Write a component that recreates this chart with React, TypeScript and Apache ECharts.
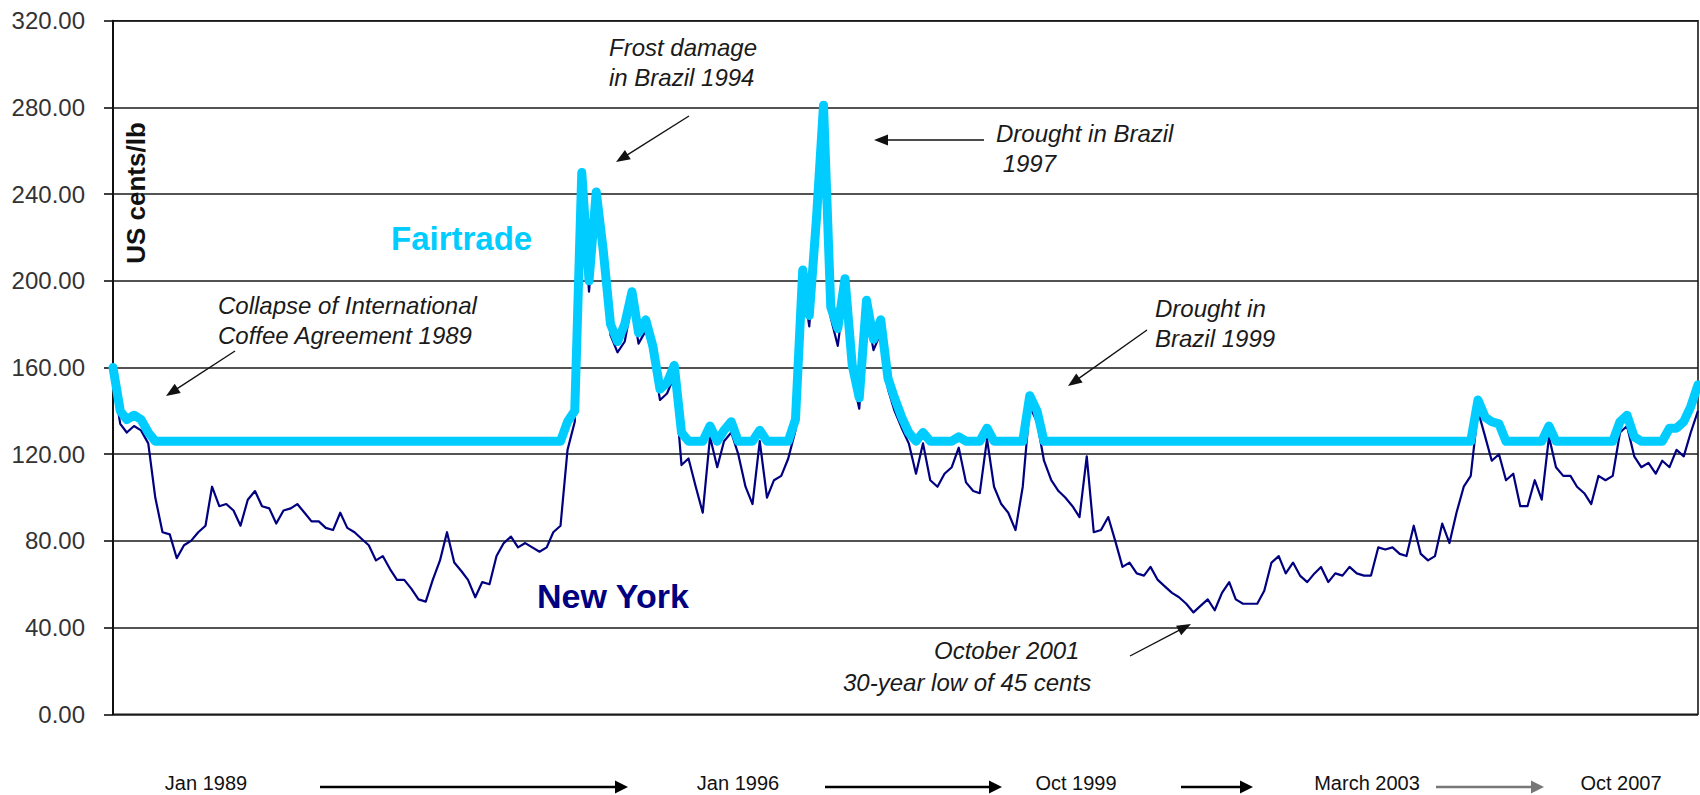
import React, { useEffect, useRef } from "react";
import * as echarts from "echarts";

// Monthly series, first point = Jan 1989, one value per month (US cents/lb)
const startYear = 1989;
const newYork = [
  155, 134, 130, 133, 131, 125, 100, 84, 83, 72, 78, 80,
  84, 87, 105, 96, 97, 94, 87, 99, 103, 96, 95, 88,
  94, 95, 97, 93, 89, 89, 86, 85, 93, 86, 84, 81,
  78, 71, 73, 67, 62, 62, 58, 53, 52, 62, 71, 84,
  70, 66, 62, 54, 61, 60, 73, 79, 82, 77, 79, 77,
  75, 77, 84, 87, 122, 135, 245, 195, 236, 209, 175, 167,
  172, 190, 171, 177, 165, 145, 148, 156, 115, 118, 105, 93,
  128, 114, 126, 130, 120, 105, 97, 126, 100, 108, 110, 118,
  131, 200, 179, 224, 276, 183, 170, 196, 156, 141, 186, 168,
  176, 150, 140, 132, 125, 111, 125, 108, 105, 111, 114, 123,
  107, 103, 102, 127, 105, 97, 93, 85, 105, 142, 135, 117,
  108, 103, 100, 96, 91, 119, 84, 85, 91, 80, 68, 70,
  65, 64, 68, 62, 59, 56, 54, 51, 47, 50, 53, 48,
  56, 61, 53, 51, 51, 51, 57, 70, 73, 65, 70, 64,
  61, 65, 68, 61, 65, 64, 68, 65, 64, 64, 77, 76,
  77, 74, 73, 87, 74, 71, 73, 88, 79, 93, 105, 110,
  140, 128, 117, 120, 108, 111, 96, 96, 108, 99, 128, 114,
  110, 110, 105, 102, 97, 110, 108, 110, 130, 133, 119, 114,
  116, 111, 117, 114, 122, 119, 130, 140,
];
const fairtrade = [
  160, 140, 136, 138, 136, 130, 126, 126, 126, 126, 126, 126,
  126, 126, 126, 126, 126, 126, 126, 126, 126, 126, 126, 126,
  126, 126, 126, 126, 126, 126, 126, 126, 126, 126, 126, 126,
  126, 126, 126, 126, 126, 126, 126, 126, 126, 126, 126, 126,
  126, 126, 126, 126, 126, 126, 126, 126, 126, 126, 126, 126,
  126, 126, 126, 126, 135, 140, 250, 200, 241, 214, 180, 172,
  180, 195, 176, 182, 170, 150, 153, 161, 130, 126, 126, 126,
  133, 126, 131, 135, 126, 126, 126, 131, 126, 126, 126, 126,
  136, 205, 184, 229, 281, 188, 178, 201, 161, 146, 191, 173,
  182, 155, 146, 137, 130, 126, 130, 126, 126, 126, 126, 128,
  126, 126, 126, 132, 126, 126, 126, 126, 126, 147, 140, 126,
  126, 126, 126, 126, 126, 126, 126, 126, 126, 126, 126, 126,
  126, 126, 126, 126, 126, 126, 126, 126, 126, 126, 126, 126,
  126, 126, 126, 126, 126, 126, 126, 126, 126, 126, 126, 126,
  126, 126, 126, 126, 126, 126, 126, 126, 126, 126, 126, 126,
  126, 126, 126, 126, 126, 126, 126, 126, 126, 126, 126, 126,
  145, 137, 135, 134, 126, 126, 126, 126, 126, 126, 133, 126,
  126, 126, 126, 126, 126, 126, 126, 126, 135, 138, 128, 126,
  126, 126, 126, 132, 132, 135, 142, 152,
];
const periodLabels = ["Jan 1989", "Jan 1996", "Oct 1999", "March 2003", "Oct 2007"];
const axisTitle = "US cents/lb";
const seriesNames = ["New York", "Fairtrade"];
const notes = [
  ["Collapse of International", "Coffee Agreement 1989"],
  ["Frost damage", "in Brazil 1994"],
  ["Drought in Brazil", " 1997"],
  ["Drought in", "Brazil 1999"],
  ["October 2001", "30-year low of 45 cents"],
];

// ---- layout (pixels) ----
const FONT = "'Liberation Sans', Arial, Helvetica, sans-serif";
const periodLabelX = [206, 738, 1076, 1367, 1621];
const periodArrows = [
  [320, 628, "#000"],
  [825, 1002, "#000"],
  [1181, 1253, "#000"],
  [1436, 1544, "#777"],
];
const notePos = [
  [[218, 305], [218, 335]],
  [[609, 47], [609, 77]],
  [[996, 133], [996, 163]],
  [[1155, 308], [1155, 338]],
  [[934, 650], [843, 682]],
];
const noteArrows = [
  [235, 351, 166, 396],
  [689, 116, 616, 162],
  [984, 140, 874, 140],
  [1147, 330, 1068, 386],
  [1130, 656, 1191, 624],
];

function monthDate(m: number) {
  const y = startYear + Math.floor(m / 12);
  const mo = (m % 12) + 1;
  return `${y}-${mo < 10 ? "0" + mo : mo}-01`;
}

function arrow(x1: number, y1: number, x2: number, y2: number, color: string, lw: number, headLen: number, headHalf: number) {
  const dx = x2 - x1;
  const dy = y2 - y1;
  const len = Math.sqrt(dx * dx + dy * dy);
  const ux = dx / len;
  const uy = dy / len;
  const bx = x2 - ux * headLen;
  const by = y2 - uy * headLen;
  const nx = -uy;
  const ny = ux;
  return [
    {
      type: "line",
      z: 100,
      silent: true,
      shape: { x1, y1, x2: bx + ux * 2, y2: by + uy * 2 },
      style: { stroke: color, lineWidth: lw },
    },
    {
      type: "polygon",
      z: 100,
      silent: true,
      shape: {
        points: [
          [x2, y2],
          [bx + nx * headHalf, by + ny * headHalf],
          [bx - nx * headHalf, by - ny * headHalf],
        ],
      },
      style: { fill: color },
    },
  ];
}

function txt(text: string, x: number, y: number, font: string, fill: string, align = "left", extra: any = {}) {
  return {
    type: "text",
    z: 100,
    silent: true,
    x,
    y,
    ...extra,
    style: {
      text,
      font,
      fill,
      align,
      textAlign: align,
      verticalAlign: "middle",
      textVerticalAlign: "middle",
    },
  };
}

export default function App() {
  const ref = useRef<HTMLDivElement>(null);

  useEffect(() => {
    if (!ref.current) return;
    const chart = echarts.init(ref.current, null, { renderer: "svg" });

    const nyData = newYork.map((v, i) => [monthDate(i), v]);
    const ftData = fairtrade.map((v, i) => [monthDate(i), v]);

    const graphics: any[] = [];
    graphics.push(
      txt(axisTitle, 136, 193, `bold 26px ${FONT}`, "#111", "center", { rotation: Math.PI / 2 })
    );
    graphics.push(txt(seriesNames[1], 391, 238, `bold 33px ${FONT}`, "#00CCFF"));
    graphics.push(txt(seriesNames[0], 537, 596, `bold 34px ${FONT}`, "#000080"));
    notes.forEach((lines, i) => {
      lines.forEach((line, j) => {
        const [x, y] = notePos[i][j];
        graphics.push(txt(line, x, y, `italic 24px ${FONT}`, "#1a1a1a"));
      });
    });
    noteArrows.forEach(([x1, y1, x2, y2]) => {
      graphics.push(...arrow(x1, y1, x2, y2, "#111", 1.4, 14, 5.5));
    });
    periodLabels.forEach((label, i) => {
      graphics.push(txt(label, periodLabelX[i], 783, `20px ${FONT}`, "#111", "center"));
    });
    periodArrows.forEach(([x1, x2, color]) => {
      graphics.push(...arrow(x1 as number, 787, x2 as number, 787, color as string, 2.6, 13, 6.5));
    });

    chart.setOption({
      animation: false,
      backgroundColor: "#ffffff",
      grid: {
        left: 113,
        right: 2,
        top: 20.7,
        bottom: 80.7,
        show: true,
        borderColor: "#1a1a1a",
        borderWidth: 1.6,
        backgroundColor: "transparent",
        containLabel: false,
        outerBoundsMode: "none",
      },
      xAxis: {
        type: "time",
        min: monthDate(0),
        max: monthDate(newYork.length - 1),
        axisLine: { show: false },
        axisTick: { show: false },
        axisLabel: { show: false },
        splitLine: { show: false },
      },
      yAxis: {
        type: "value",
        min: 0,
        max: 320,
        interval: 40,
        axisLine: { show: true, lineStyle: { color: "#111", width: 2 } },
        axisTick: { show: true, length: 9, lineStyle: { color: "#111", width: 1.6 } },
        axisLabel: {
          margin: 28,
          fontSize: 24,
          fontFamily: FONT,
          color: "#333",
          formatter: (v: number) => v.toFixed(2),
        },
        splitLine: { show: true, lineStyle: { color: "#1a1a1a", width: 1.6 } },
      },
      series: [
        {
          name: seriesNames[0],
          type: "line",
          data: nyData,
          symbol: "none",
          showSymbol: false,
          z: 2,
          lineStyle: { color: "#000080", width: 2.2, join: "round" },
          silent: true,
        },
        {
          name: seriesNames[1],
          type: "line",
          data: ftData,
          symbol: "none",
          showSymbol: false,
          z: 3,
          lineStyle: { color: "#00CCFF", width: 9, join: "round", cap: "round" },
          silent: true,
        },
      ],
      graphic: graphics,
    });

    return () => chart.dispose();
  }, []);

  return (
    <div
      ref={ref}
      style={{ position: "fixed", left: 0, top: 0, width: 1700, height: 795, background: "#fff" }}
    />
  );
}
